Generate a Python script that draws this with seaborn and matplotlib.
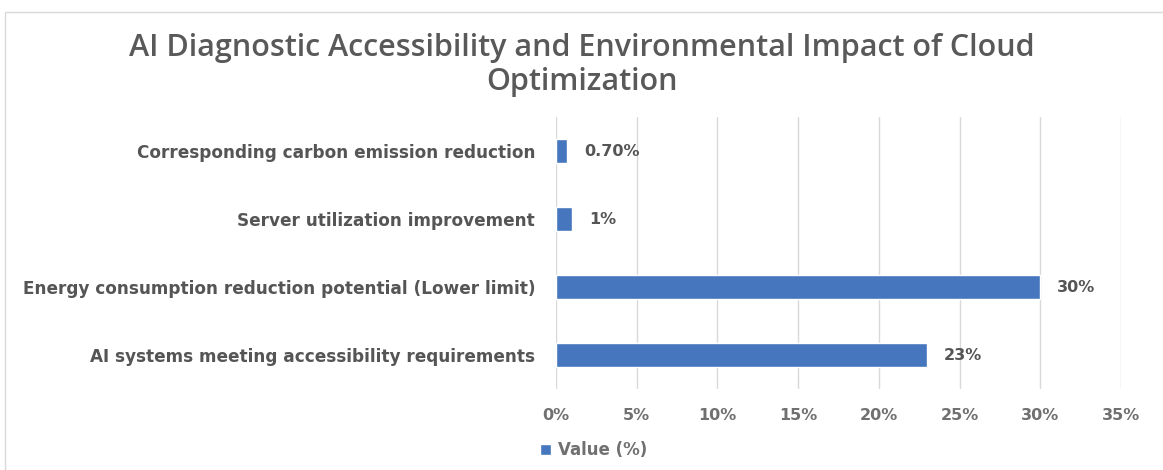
import pandas as pd
import matplotlib.pyplot as plt
import seaborn as sns
from matplotlib.patches import Patch, Rectangle

# chart data
categories = ['Corresponding carbon emission reduction',
              'Server utilization improvement',
              'Energy consumption reduction potential (Lower limit)',
              'AI systems meeting accessibility requirements']
values = [0.7, 1, 30, 23]
value_labels = ['0.70%', '1%', '30%', '23%']
x_ticks = [0, 5, 10, 15, 20, 25, 30, 35]
x_tick_labels = ['0%', '5%', '10%', '15%', '20%', '25%', '30%', '35%']
series_name = 'Value (%)'
title = 'AI Diagnostic Accessibility and Environmental Impact of Cloud\nOptimization'

bar_color = '#4677be'
text_color = '#595959'

sns.set_style('white')
plt.rcParams['font.family'] = ['DejaVu Sans']

df = pd.DataFrame({'Category': categories, 'Value': values})

fig = plt.figure(figsize=(11.63, 4.70), dpi=100)
ax = fig.add_axes([556 / 1163, 1 - 389 / 470, (1121 - 556) / 1163, (389 - 117) / 470])

sns.barplot(data=df, x='Value', y='Category', orient='h', color=bar_color,
            width=0.35, saturation=1, ax=ax)

ax.set_xlim(0, 35)
ax.set_ylim(3.5, -0.5)
ax.set_xticks(x_ticks)
ax.set_xticklabels(x_tick_labels)
ax.set_xlabel('')
ax.set_ylabel('')
ax.grid(axis='x', color='#d9d9d9', linewidth=1)
ax.set_axisbelow(True)
for s in ax.spines.values():
    s.set_visible(False)
ax.tick_params(axis='y', length=0, pad=15, labelsize=12.2, labelcolor='#555555')
ax.tick_params(axis='x', length=0, pad=14, labelsize=11.5, labelcolor='#707070')
for lbl in ax.get_yticklabels() + ax.get_xticklabels():
    lbl.set_fontweight('bold')

ax.bar_label(ax.containers[0], labels=value_labels, padding=12,
             fontsize=11.5, fontweight='bold', color='#555555')

fig.text(0.5, 0.862, title, ha='center', va='center', fontsize=22,
         family='Open Sans', fontweight='semibold', color=text_color,
         linespacing=1.18)

fig.legend(handles=[Patch(facecolor=bar_color, label=series_name)],
           loc='center left', bbox_to_anchor=(0.451, 0.042), frameon=False,
           handlelength=0.7, handleheight=0.7, handletextpad=0.4,
           prop={'weight': 'bold', 'size': 12}, labelcolor='#707070')

# chart area border
fig.patches.append(Rectangle((5 / 1163, -0.01), 1.02, 1 - 12 / 470 + 0.01,
                             transform=fig.transFigure, fill=False,
                             edgecolor='#d9d9d9', linewidth=1))

fig.savefig('out.png', dpi=100)
plt.close()
